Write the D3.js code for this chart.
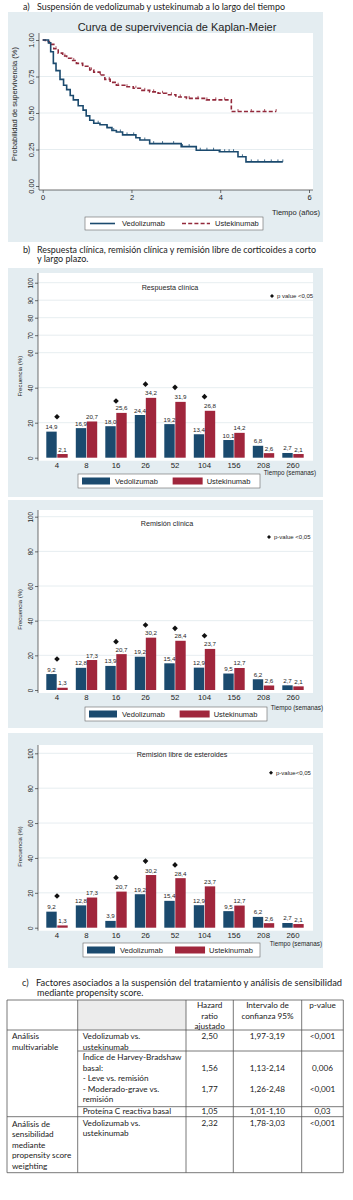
<!DOCTYPE html>
<html lang="es">
<head>
<meta charset="utf-8">
<style>
  body { margin: 0; background: #fff; }
  svg text { font-family: "Liberation Sans", Arial, sans-serif; fill: #1e1e1e; }
  svg text.doc { font-family: Lato, "Open Sans", sans-serif; fill: #222; }
  .axis path { display: none; }
  .axis line { stroke: #333; stroke-width: 0.7; }
</style>
<script src="https://d3js.org/d3.v7.min.js"></script>
</head>
<body>
<script>
  // ---- a) Kaplan-Meier (years, survival)
  let vedoT = [0, 0.13, 0.18, 0.24, 0.30, 0.39, 0.47, 0.54, 0.62, 0.69, 0.80, 0.91, 0.98, 1.06, 1.15, 1.29, 1.45, 1.56, 1.66, 1.80, 2.10, 2.19, 2.41, 3.12, 3.46, 3.98, 4.40, 4.58, 5.41];
  let vedoS = [1.00, 0.98, 0.92, 0.84, 0.79, 0.73, 0.69, 0.66, 0.62, 0.59, 0.55, 0.52, 0.48, 0.45, 0.43, 0.42, 0.40, 0.38, 0.37, 0.35, 0.33, 0.315, 0.29, 0.27, 0.245, 0.235, 0.20, 0.165, 0.165];
  let usteT = [0, 0.06, 0.15, 0.25, 0.35, 0.45, 0.54, 0.65, 0.76, 0.90, 1.06, 1.15, 1.29, 1.40, 1.52, 1.66, 1.85, 2.04, 2.20, 2.41, 2.60, 2.79, 3.00, 3.24, 3.69, 4.25, 5.26];
  let usteS = [1.00, 0.99, 0.97, 0.94, 0.91, 0.89, 0.875, 0.86, 0.84, 0.82, 0.795, 0.78, 0.76, 0.73, 0.71, 0.69, 0.68, 0.67, 0.655, 0.645, 0.635, 0.625, 0.61, 0.60, 0.59, 0.51, 0.51];
  let vedoCens = [1.25, 1.45, 1.6, 1.75, 1.9, 2.05, 2.3, 2.5, 2.7, 2.95, 3.15, 3.3, 3.55, 3.7, 3.85, 4.0, 4.1, 4.2, 4.3, 4.5, 4.7, 4.85, 5.0, 5.15, 5.3, 5.41];
  let usteCens = [0.3, 0.5, 0.7, 0.9, 1.1, 1.3, 1.5, 1.7, 1.9, 2.1, 2.3, 2.5, 2.7, 2.9, 3.1, 3.3, 3.5, 3.7, 3.9, 4.1, 4.4, 4.7, 5.0, 5.26];
  let kmTicksX = [0, 2, 4, 6];
  let kmTicksY = [0, 0.25, 0.5, 0.75, 1];

  // ---- b) bars (% of patients), by week
  let weeks = ["4", "8", "16", "26", "52", "104", "156", "208", "260"];
  let respVedo = [14.9, 16.9, 18.0, 24.4, 19.2, 13.4, 10.1, 6.8, 2.7];
  let respUste = [2.1, 20.7, 25.6, 34.2, 31.9, 26.8, 14.2, 2.6, 2.1];
  let remVedo = [9.2, 12.8, 13.9, 19.2, 15.4, 12.9, 9.5, 6.2, 2.7];
  let remUste = [1.3, 17.3, 20.7, 30.2, 28.4, 23.7, 12.7, 2.6, 2.1];
  let libreVedo = [9.2, 12.8, 3.9, 19.2, 15.4, 12.9, 9.5, 6.2, 2.7];
  let libreUste = [1.3, 17.3, 20.7, 30.2, 28.4, 23.7, 12.7, 2.6, 2.1];
  let respSig = ["4", "16", "26", "52", "104"];
  let respSigY = [23.4, 32.4, 42, 40.2, 34.9];
  let remSig = ["4", "16", "26", "52", "104"];
  let remSigY = [17.9, 27.9, 37.5, 35.6, 31.3];
  let libreSig = ["4", "16", "26", "52"];
  let libreSigY = [18.2, 28.7, 38.2, 36.0];
  let respTicks = [0, 20, 40, 60, 70, 80, 90, 100];
  let remTicks = [0, 20, 40, 60, 80, 100];

  // ---- c) table
  let tblHead = [["Hazard", "ratio", "ajustado"], ["Intervalo de", "confianza 95%"], ["p-value"]];
  let tblGroup = [["Análisis", "multivariable"], ["Análisis de", "sensibilidad", "mediante", "propensity score", "weighting"]];
  let tblFactor = [["Vedolizumab vs.", "ustekinumab"],
                   ["Índice de Harvey-Bradshaw", "basal:", "- Leve vs. remisión", "- Moderado-grave vs.", "remisión"],
                   ["Proteína C reactiva basal"],
                   ["Vedolizumab vs.", "ustekinumab"]];
  let tblHR = [["2,50"], ["", "1,56", "", "1,77"], ["1,05"], ["2,32"]];
  let tblIC = [["1,97-3,19"], ["", "1,13-2,14", "", "1,26-2,48"], ["1,01-1,10"], ["1,78-3,03"]];
  let tblP = [["<0,001"], ["", "0,006", "", "<0,001"], ["0,03"], ["<0,001"]];

  let bgCol = "#e4edf1";
  let gridCol = "#dfe8ec";
  let navy = "#1b4a6e";
  let red = "#a0263c";
  let redLine = "#93293b";

  let svg = d3.select("body").append("svg")
    .attr("width", 353)
    .attr("height", 1200);

  function caption(x, y, lab, txt, len) {
    svg.append("text").attr("class", "doc").attr("x", x).attr("y", y)
      .style("font-size", "9px").text(lab);
    let t = svg.append("text").attr("class", "doc").attr("x", x + 14).attr("y", y)
      .style("font-size", "9px").text(txt);
    if (len) t.attr("textLength", len).attr("lengthAdjust", "spacingAndGlyphs");
  }

  function vtext(g, x, y, txt, size) {
    g.append("text")
      .attr("transform", "translate(" + x + "," + y + ") rotate(-90)")
      .attr("text-anchor", "middle")
      .style("font-size", size + "px")
      .text(txt);
  }

  // ================= a) Kaplan-Meier =================
  caption(23, 10, "a)", "Suspensión de vedolizumab y ustekinumab a lo largo del tiempo", 248);

  let km = svg.append("g");
  km.append("rect").attr("x", 8).attr("y", 12).attr("width", 315).attr("height", 230).attr("fill", bgCol);
  km.append("rect").attr("x", 39).attr("y", 33).attr("width", 274).attr("height", 157).attr("fill", "#fff");
  km.append("text").attr("x", 177).attr("y", 31).attr("text-anchor", "middle")
    .style("font-size", "11px").text("Curva de supervivencia de Kaplan-Meier");

  let kx = d3.scaleLinear().domain([0, 6]).range([42.7, 309]);
  let ky = d3.scaleLinear().domain([0, 1]).range([186, 40]);

  km.selectAll(".kgrid").data(kmTicksY.filter(d => d > 0 && d < 1)).enter()
    .append("line").attr("x1", 39).attr("x2", 313)
    .attr("y1", d => ky(d)).attr("y2", d => ky(d))
    .attr("stroke", gridCol).attr("stroke-width", 0.8);

  let kxa = km.append("g").attr("class", "axis").attr("transform", "translate(0,190)")
    .call(d3.axisBottom(kx).tickValues(kmTicksX).tickFormat(d3.format("d")).tickSize(3).tickPadding(2));
  kxa.selectAll("text").style("font-size", "7.5px").style("font-family", "Liberation Sans");
  let kya = km.append("g").attr("class", "axis").attr("transform", "translate(39,0)")
    .call(d3.axisLeft(ky).tickValues(kmTicksY).tickFormat(d3.format(".2f")).tickSize(3));
  kya.selectAll("text")
    .attr("x", 0).attr("y", -5).attr("dy", 0)
    .attr("text-anchor", "middle").attr("transform", "rotate(-90)")
    .style("font-size", "7.5px").style("font-family", "Liberation Sans");
  km.append("line").attr("x1", 39).attr("x2", 313).attr("y1", 190).attr("y2", 190).attr("stroke", "#333").attr("stroke-width", 0.7);
  km.append("line").attr("x1", 39).attr("x2", 39).attr("y1", 33).attr("y2", 190).attr("stroke", "#333").attr("stroke-width", 0.7);
  vtext(km, 17, 104, "Probabilidad de supervivencia (%)", 7.5);
  km.append("text").attr("x", 320).attr("y", 215).attr("text-anchor", "end")
    .style("font-size", "7.5px").text("Tiempo (años)");

  let kmLine = d3.line().x(d => kx(d[0])).y(d => ky(d[1])).curve(d3.curveStepAfter);
  function survAt(T, S, t) {
    let i = d3.bisectRight(T, t) - 1;
    return S[Math.max(0, i)];
  }
  let curves = [
    { T: usteT, S: usteS, cens: usteCens, col: redLine, dash: "4,2.2" },
    { T: vedoT, S: vedoS, cens: vedoCens, col: navy, dash: null }
  ];
  curves.forEach(function(c) {
    km.append("path").datum(d3.zip(c.T, c.S))
      .attr("d", kmLine).attr("fill", "none")
      .attr("stroke", c.col).attr("stroke-width", 1.6)
      .attr("stroke-dasharray", c.dash);
    km.selectAll(null).data(c.cens).enter().append("line")
      .attr("x1", d => kx(d)).attr("x2", d => kx(d))
      .attr("y1", d => ky(survAt(c.T, c.S, d)) - 2.5)
      .attr("y2", d => ky(survAt(c.T, c.S, d)))
      .attr("stroke", c.col).attr("stroke-width", 0.8);
  });

  let kl = km.append("g");
  kl.append("rect").attr("x", 85).attr("y", 217).attr("width", 178).attr("height", 13)
    .attr("fill", "#fff").attr("stroke", "#666").attr("stroke-width", 0.6);
  kl.append("line").attr("x1", 90).attr("x2", 115).attr("y1", 223.5).attr("y2", 223.5)
    .attr("stroke", navy).attr("stroke-width", 1.6);
  kl.append("text").attr("x", 122).attr("y", 226.3).style("font-size", "7.5px").text("Vedolizumab");
  kl.append("line").attr("x1", 182).attr("x2", 210).attr("y1", 223.5).attr("y2", 223.5)
    .attr("stroke", redLine).attr("stroke-width", 1.6).attr("stroke-dasharray", "4,2.2");
  kl.append("text").attr("x", 215).attr("y", 226.3).style("font-size", "7.5px").text("Ustekinumab");

  // ================= b) bar charts =================
  caption(23, 253, "b)", "Respuesta clínica, remisión clínica y remisión libre de corticoides a corto", 279);
  svg.append("text").attr("class", "doc").attr("x", 37).attr("y", 262).style("font-size", "9px").text("y largo plazo.");

  let xc = d3.scalePoint().domain(weeks).range([57, 293]);
  let xs = d3.scaleBand().domain(["Vedolizumab", "Ustekinumab"]).range([-11, 11]);
  let diamond = d3.symbol().type(d3.symbolSquare).size(16);
  let diamondSm = d3.symbol().type(d3.symbolSquare).size(8);
  let fmt = d => d3.format(".1f")(d).replace(".", ",");

  function barPanel(p) {
    let g = svg.append("g");
    g.append("rect").attr("x", 8).attr("y", p.top).attr("width", 315).attr("height", p.bottom - p.top).attr("fill", bgCol);
    g.append("rect").attr("x", 38).attr("y", p.plotTop).attr("width", 275).attr("height", p.y0 + 3 - p.plotTop).attr("fill", "#fff");

    let y = d3.scaleLinear().domain([0, 100]).range([p.y0, p.y100]);

    g.selectAll(null).data(p.ticks.filter(d => d > 0)).enter().append("line")
      .attr("x1", 38).attr("x2", 313).attr("y1", d => y(d)).attr("y2", d => y(d))
      .attr("stroke", gridCol).attr("stroke-width", 0.8);

    let ya = g.append("g").attr("class", "axis").attr("transform", "translate(38,0)")
      .call(d3.axisLeft(y).tickValues(p.ticks).tickSize(3));
    ya.selectAll("text")
      .attr("x", 0).attr("y", -5).attr("dy", 0)
      .attr("text-anchor", "middle").attr("transform", "rotate(-90)")
      .style("font-size", "6.3px").style("font-family", "Liberation Sans");
    g.append("line").attr("x1", 38).attr("x2", 38).attr("y1", p.plotTop).attr("y2", p.y0 + 3)
      .attr("stroke", "#333").attr("stroke-width", 0.7);
    vtext(g, 22, (p.y0 + p.y100) / 2 + 6, "Frecuencia (%)", 6);

    g.append("text").attr("x", p.titleX).attr("y", p.titleY).attr("text-anchor", "middle")
      .style("font-size", "7.2px").text(p.title);

    let rows = weeks.map((w, i) => ({ w: w, v: [["Vedolizumab", p.vedo[i]], ["Ustekinumab", p.uste[i]]] }));
    let grp = g.selectAll(null).data(rows).enter().append("g")
      .attr("transform", d => "translate(" + xc(d.w) + ",0)");
    grp.selectAll("rect").data(d => d.v).enter().append("rect")
      .attr("x", d => xs(d[0]) + 0.3).attr("width", xs.bandwidth() - 0.6)
      .attr("y", d => y(d[1])).attr("height", d => y(0) - y(d[1]))
      .attr("fill", d => d[0] === "Vedolizumab" ? navy : red);
    grp.selectAll("text").data(d => d.v).enter().append("text")
      .attr("x", d => xs(d[0]) + xs.bandwidth() / 2).attr("y", d => y(d[1]) - 2.5)
      .attr("text-anchor", "middle").style("font-size", "6.2px")
      .text(d => fmt(d[1]));

    g.selectAll(null).data(p.sig).enter().append("path")
      .attr("d", diamond)
      .attr("transform", (d, i) => "translate(" + xc(d) + "," + y(p.sigY[i]) + ") rotate(45)")
      .attr("fill", "#111");

    g.selectAll(null).data(weeks).enter().append("text")
      .attr("x", d => xc(d)).attr("y", p.y0 + 10)
      .attr("text-anchor", "middle").style("font-size", "7.8px").text(d => d);

    g.append("path").attr("d", diamondSm)
      .attr("transform", "translate(" + p.pX + "," + p.pY + ") rotate(45)").attr("fill", "#111");
    g.append("text").attr("x", p.pX + 5).attr("y", p.pY + 2).style("font-size", "6px").text(p.pText);

    g.append("text").attr("x", p.tX).attr("y", p.tY).attr("text-anchor", "end")
      .style("font-size", "6.3px").text("Tiempo (semanas)");

    let lg = g.append("g").attr("transform", "translate(" + p.legX + "," + p.legY + ")");
    lg.append("rect").attr("width", p.legW).attr("height", 14)
      .attr("fill", "#fff").attr("stroke", "#666").attr("stroke-width", 0.6);
    lg.append("rect").attr("x", 4).attr("y", 3.5).attr("width", 28).attr("height", 7).attr("fill", navy);
    lg.append("text").attr("x", 37).attr("y", 9.8).style("font-size", "7.5px").text("Vedolizumab");
    lg.append("rect").attr("x", p.legW * 0.52).attr("y", 3.5).attr("width", 30).attr("height", 7).attr("fill", red);
    lg.append("text").attr("x", p.legW * 0.52 + 34).attr("y", 9.8).style("font-size", "7.5px").text("Ustekinumab");
  }

  barPanel({ top: 268, bottom: 497, plotTop: 273, y0: 457.7, y100: 282.7, ticks: respTicks,
    title: "Respuesta clínica", titleX: 170, titleY: 290, vedo: respVedo, uste: respUste,
    sig: respSig, sigY: respSigY, pX: 272, pY: 296, pText: "p value <0,05",
    tX: 316, tY: 475, legX: 78, legY: 474, legW: 182 });

  barPanel({ top: 500, bottom: 728, plotTop: 510, y0: 690, y100: 516.7, ticks: remTicks,
    title: "Remisión clínica", titleX: 167, titleY: 526, vedo: remVedo, uste: remUste,
    sig: remSig, sigY: remSigY, pX: 269, pY: 537, pText: "p-value <0,05",
    tX: 323, tY: 710, legX: 85, legY: 707, legW: 182 });

  barPanel({ top: 733, bottom: 968, plotTop: 745, y0: 927.7, y100: 753.3, ticks: remTicks,
    title: "Remisión libre de esteroides", titleX: 182, titleY: 757, vedo: libreVedo, uste: libreUste,
    sig: libreSig, sigY: libreSigY, pX: 271, pY: 772.7, pText: "p-value<0,05",
    tX: 322, tY: 946, legX: 83, legY: 943, legW: 177 });

  // ================= c) table =================
  caption(22, 986, "c)", "Factores asociados a la suspensión del tratamiento y análisis de sensibilidad", 306);
  svg.append("text").attr("class", "doc").attr("x", 37).attr("y", 996).style("font-size", "9px").text("mediante propensity score.");

  let tb = svg.append("g");
  let colX = [7, 77.7, 186, 233.3, 301.7, 343.3];
  let rowY = [1000, 1030, 1051, 1106.7, 1116.7, 1172.7];
  let lineH = 10.5;
  let ln = (x1, y1, x2, y2) => tb.append("line").attr("x1", x1).attr("y1", y1).attr("x2", x2).attr("y2", y2)
    .attr("stroke", "#555").attr("stroke-width", 0.8);

  tb.append("rect").attr("x", colX[1]).attr("y", rowY[0]).attr("width", colX[2] - colX[1]).attr("height", rowY[1] - rowY[0]).attr("fill", "#ececec");
  ln(colX[0], rowY[0], colX[5], rowY[0]);
  ln(colX[0], rowY[1], colX[5], rowY[1]);
  ln(colX[1], rowY[2], colX[5], rowY[2]);
  ln(colX[1], rowY[3], colX[5], rowY[3]);
  ln(colX[0], rowY[4], colX[5], rowY[4]);
  ln(colX[0], rowY[5], colX[5], rowY[5]);
  colX.forEach(x => ln(x, rowY[0], x, rowY[5]));

  function cellLines(x, y, lines, anchor) {
    lines.forEach(function(s, i) {
      tb.append("text").attr("class", "doc").attr("x", x).attr("y", y + i * lineH)
        .attr("text-anchor", anchor).style("font-size", "8.2px").text(s);
    });
  }
  tblHead.forEach(function(h, i) {
    cellLines((colX[i + 2] + colX[i + 3]) / 2, 1008, h, "middle");
  });
  cellLines(colX[0] + 5, rowY[1] + 9, tblGroup[0], "start");
  cellLines(colX[0] + 5, rowY[4] + 10, tblGroup[1], "start");
  let rowTop = [rowY[1], rowY[2], rowY[3], rowY[4]];
  tblFactor.forEach(function(f, r) {
    let y = rowTop[r] + (r === 2 ? 7.5 : 9);
    cellLines(colX[1] + 5, y, f, "start");
    cellLines((colX[2] + colX[3]) / 2, y, tblHR[r], "middle");
    cellLines((colX[3] + colX[4]) / 2, y, tblIC[r], "middle");
    cellLines((colX[4] + colX[5]) / 2, y, tblP[r], "middle");
  });
</script>
</body>
</html>
